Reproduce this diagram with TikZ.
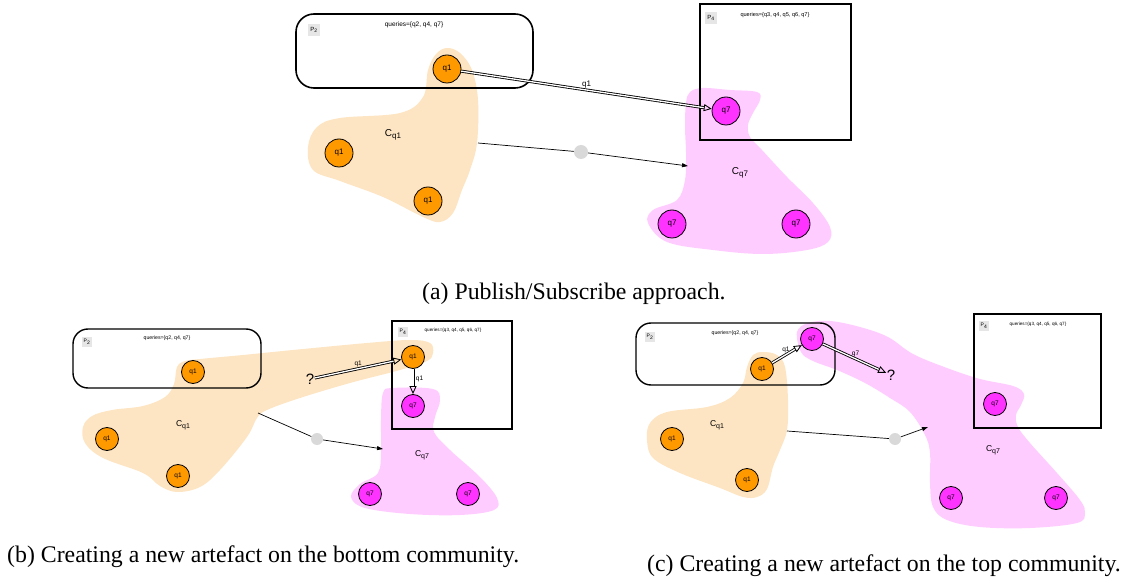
\documentclass[tikz,border=0pt]{standalone}
\usepackage{fontspec}
\setmainfont{Liberation Serif}
\setsansfont{Liberation Sans}
\usetikzlibrary{arrows.meta}

\definecolor{qorange}{RGB}{255,153,0}
\definecolor{qpink}{RGB}{255,51,255}
\definecolor{bloborange}{RGB}{253,228,194}
\definecolor{blobpink}{RGB}{255,204,255}
\definecolor{tagbg}{RGB}{230,230,230}
\definecolor{dotgray}{RGB}{217,217,217}

% community label with lowered index
\newcommand{\comlabel}[2]{C\raisebox{-0.5ex}{\fontsize{#2}{#2}\selectfont #1}}

\tikzset{
  qone/.style={circle, draw, line width=0.8pt, fill=qorange, inner sep=0pt},
  qseven/.style={circle, draw, line width=0.8pt, fill=qpink, inner sep=0pt},
  bignode/.style={minimum size=28pt, font=\sffamily\fontsize{8}{8}\selectfont},
  smallnode/.style={minimum size=23pt, font=\sffamily\fontsize{6.5}{6.5}\selectfont},
  peer/.style={draw, line width=1.6pt},
  ptag/.style={fill=tagbg, inner sep=0pt, font=\sffamily\fontsize{#1}{#1}\selectfont},
  qlist/.style={inner sep=0pt, font=\sffamily\fontsize{#1}{#1}\selectfont},
  pub/.style={double, double distance=1.3pt, line width=0.85pt,
    -{Triangle[open, length=8pt, width=7pt]}},
  link/.style={line width=0.7pt, -{Triangle[length=6pt, width=4pt]}},
  gdot/.style={circle, fill=dotgray, inner sep=0pt, minimum size=#1},
  blob/.style={fill=#1, draw=none},
  lbl/.style={font=\sffamily\fontsize{#1}{#1}\selectfont, inner sep=1pt},
  caption/.style={anchor=base west, inner sep=0pt, font=\fontsize{23.8}{24}\selectfont}
}

\begin{document}
\begin{tikzpicture}[x=1pt, y=-1pt]

    \useasboundingbox (0,0) rectangle (1133,577);

    %% (a) Publish/Subscribe approach

    % Communities
    \fill[blob=bloborange] plot[smooth cycle, tension=0.6] coordinates {
      (447,48) (460,53) (472,70) (478,100) (477,143) (470,170) (462,190)
      (453,213) (440,222) (423,217) (383,197) (340,181) (313,170) (308,147)
      (317,127) (340,118) (400,113) (423,97) (428,70) (436,54)};
    \fill[blob=blobpink] plot[smooth cycle, tension=0.6] coordinates {
      (690,92) (703,88) (730,90) (757,92) (760,100) (753,113) (748,125)
      (750,137) (762,150) (787,177) (813,203) (830,227) (828,242) (807,250)
      (763,254) (713,250) (667,242) (648,223) (653,210) (677,200) (685,180)
      (686,153) (685,127) (686,103)};

    % Peers
    \node[peer, rounded corners=18pt, minimum width=237pt, minimum height=74pt] (p2a) at (414.5,51) {};
    \node[ptag=6, minimum size=12pt] (t2a) at (314,30) {P\textsubscript{2}};
    \node[qlist=6.5] (l2a) at (414,25) {queries=\{q2, q4, q7\}};
    \node[peer, minimum width=151pt, minimum height=136pt] (p4a) at (775.5,72) {};
    \node[ptag=6, minimum size=12pt] (t4a) at (711,18) {P\textsubscript{4}};
    \node[qlist=5.6] (l4a) at (775,15) {queries=\{q3, q4, q5, q6, q7\}};

    % Queries
    \node[qone, bignode] (q1a) at (447,69) {q1};
    \node[qone, bignode] (q1b) at (339,153) {q1};
    \node[qone, bignode] (q1c) at (428,201) {q1};
    \node[qseven, bignode] (q7a) at (726,111) {q7};
    \node[qseven, bignode] (q7b) at (672,224) {q7};
    \node[qseven, bignode] (q7c) at (796,224) {q7};
    \node[lbl=10] (ca) at (393,135) {\comlabel{q1}{8}};
    \node[lbl=10] (cb) at (740,173) {\comlabel{q7}{8}};

    % Links
    \draw[pub] (q1a) -- (q7a) node[midway, above, lbl=8] {q1};
    \node[gdot=14pt] (dota) at (581,152) {};
    \coordinate (enda) at (478,143);
    \coordinate (tipa) at (688,166);
    \draw[line width=0.7pt] (enda) -- (dota);
    \draw[link] (dota) -- (tipa);

    \node[caption] (capa) at (422,300) {(a) Publish/Subscribe approach.};

    %% (b) New artefact on the bottom community

    % Communities
    \fill[blob=bloborange] plot[smooth cycle, tension=0.6] coordinates {
      (177,367) (185,361) (200,359) (243,355) (293,350) (367,343) (410,340)
      (430,343) (433,353) (427,361) (400,370) (350,383) (300,398) (267,410)
      (257,418) (247,437) (220,470) (200,487) (177,492) (160,486) (143,473)
      (103,458) (85,443) (83,427) (92,416) (112,410) (143,406) (165,397)
      (174,384)};
    \fill[blob=blobpink] plot[smooth cycle, tension=0.6] coordinates {
      (383,393) (393,388) (433,389) (440,400) (435,417) (434,432) (450,450)
      (480,477) (497,498) (494,510) (460,515) (410,514) (365,508) (351,497)
      (360,484) (378,473) (381,450) (381,420)};

    % Peers
    \node[peer, line width=1.4pt, rounded corners=15pt, minimum width=188pt, minimum height=59pt] (p2b) at (167,358.5) {};
    \node[ptag=5, minimum size=10pt] (t2b) at (87,342) {P\textsubscript{2}};
    \node[qlist=5.2] (l2b) at (167,338) {queries=\{q2, q4, q7\}};
    \node[peer, line width=1.4pt, minimum width=120pt, minimum height=108pt] (p4b) at (452,375) {};
    \node[ptag=5, minimum size=10pt] (t4b) at (403,332) {P\textsubscript{4}};
    \node[qlist=4.6] (l4b) at (453,330) {queries=\{q3, q4, q5, q6, q7\}};

    % Queries
    \node[qone, smallnode] (q1d) at (193,372) {q1};
    \node[qone, smallnode] (q1e) at (107,439) {q1};
    \node[qone, smallnode] (q1f) at (178,476) {q1};
    \node[qone, smallnode] (q1g) at (413,357) {q1};
    \node[qseven, smallnode] (q7d) at (413,406) {q7};
    \node[qseven, smallnode] (q7e) at (370,494) {q7};
    \node[qseven, smallnode] (q7f) at (468,494) {q7};
    \node[lbl=8.5] (cc) at (183,425) {\comlabel{q1}{7}};
    \node[lbl=8.5] (cd) at (422,455) {\comlabel{q7}{7}};

    % Links
    \node[lbl=15, inner sep=0.5pt] (askb) at (310,379) {?};
    \draw[pub] (askb) -- (q1g) node[midway, above, lbl=6.5] {q1};
    \draw[pub] (q1g.south) -- (q7d.north) node[pos=0.4, right, lbl=6.5, xshift=1.5pt] {q1};
    \node[gdot=12pt] (dotb) at (317,439) {};
    \coordinate (endb) at (258,413);
    \coordinate (tipb) at (383,449);
    \draw[line width=0.7pt] (endb) -- (dotb);
    \draw[link] (dotb) -- (tipb);

    \node[caption] (capb) at (7,562) {(b) Creating a new artefact on the bottom community.};

    %% (c) New artefact on the top community

    % Communities
    \fill[blob=bloborange] plot[smooth cycle, tension=0.6] coordinates {
      (763,352) (777,355) (785,367) (788,400) (787,430) (780,450) (773,467)
      (767,489) (757,497) (743,497) (720,488) (680,473) (653,458) (647,440)
      (650,423) (667,412) (707,407) (730,398) (743,383) (747,367) (753,355)};
    \fill[blob=blobpink] plot[smooth cycle, tension=0.6] coordinates {
      (797,332) (808,323) (830,321) (860,327) (888,337) (913,354) (947,368)
      (980,379) (1013,386) (1024,394) (1021,405) (1016,415) (1018,427)
      (1030,443) (1057,473) (1080,500) (1085,513) (1077,523) (1030,528)
      (980,527) (947,520) (933,507) (930,483) (930,453) (925,435) (910,412)
      (890,398) (865,383) (837,370) (813,361) (801,352)};

    % Peers
    \node[peer, line width=1.4pt, rounded corners=15pt, minimum width=199pt, minimum height=62pt] (p2c) at (735.5,354) {};
    \node[ptag=5, minimum size=10pt] (t2c) at (650,337) {P\textsubscript{2}};
    \node[qlist=5.2] (l2c) at (735,333) {queries=\{q2, q4, q7\}};
    \node[peer, line width=1.4pt, minimum width=127pt, minimum height=114pt] (p4c) at (1037.5,371) {};
    \node[ptag=5, minimum size=10pt] (t4c) at (984,326) {P\textsubscript{4}};
    \node[qlist=4.6] (l4c) at (1038,324) {queries=\{q3, q4, q5, q6, q7\}};

    % Queries
    \node[qone, smallnode] (q1h) at (762,369) {q1};
    \node[qone, smallnode] (q1i) at (672,439) {q1};
    \node[qone, smallnode] (q1j) at (747,480) {q1};
    \node[qseven, smallnode] (q7g) at (812,339) {q7};
    \node[qseven, smallnode] (q7h) at (995,404) {q7};
    \node[qseven, smallnode] (q7i) at (951,498) {q7};
    \node[qseven, smallnode] (q7j) at (1056,498) {q7};
    \node[lbl=8.5] (ce) at (717,425) {\comlabel{q1}{7}};
    \node[lbl=8.5] (cf) at (993,450) {\comlabel{q7}{7}};

    % Links
    \node[lbl=15, inner sep=0.5pt] (askc) at (891,375) {?};
    \draw[pub] (q1h) -- (q7g) node[midway, above left, lbl=6.5, xshift=4pt] {q1};
    \draw[pub] (q7g) -- (askc) node[midway, above right, lbl=6.5, xshift=-4pt] {q7};
    \node[gdot=12pt] (dotc) at (895,439) {};
    \coordinate (endc) at (787,431);
    \coordinate (tipc) at (928,427);
    \draw[line width=0.7pt] (endc) -- (dotc);
    \draw[link] (dotc) -- (tipc);

    \node[caption] (capc) at (647,571) {(c) Creating a new artefact on the top community.};

\end{tikzpicture}
\end{document}
